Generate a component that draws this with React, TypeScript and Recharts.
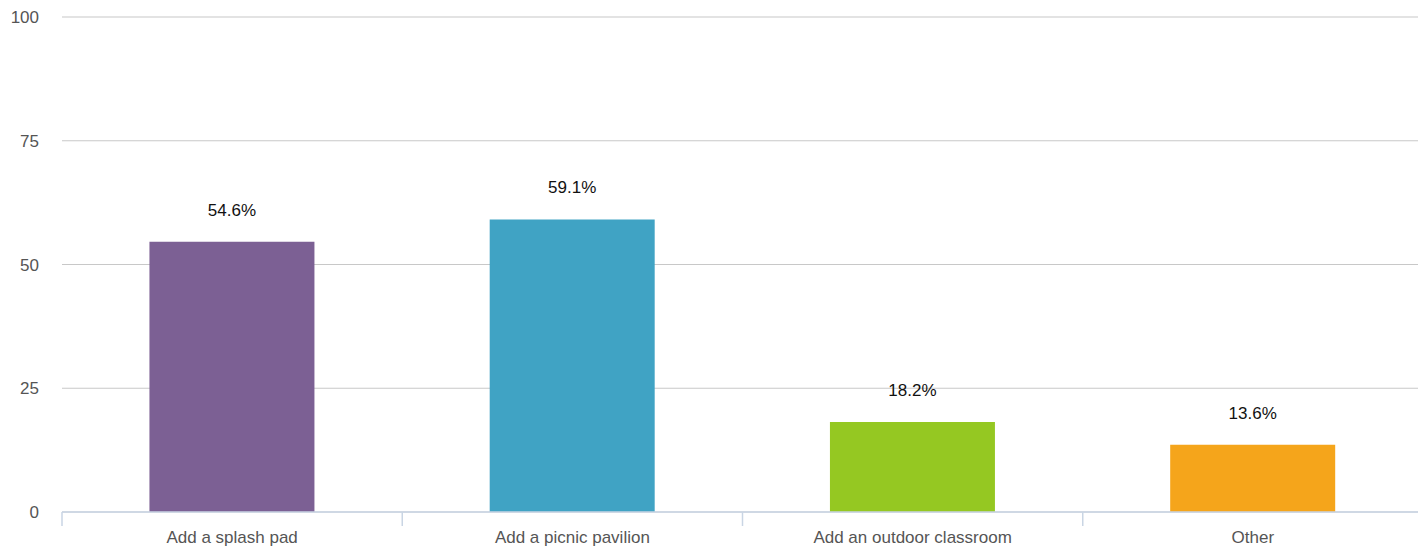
import React from 'react';
import { BarChart, Bar, XAxis, YAxis, CartesianGrid, Cell, LabelList } from 'recharts';

const categories = ['Add a splash pad', 'Add a picnic pavilion', 'Add an outdoor classroom', 'Other'];
const values = [54.6, 59.1, 18.2, 13.6];
const colors = ['#7c6094', '#40a3c4', '#95c822', '#f5a51b'];
const yTicks = [0, 25, 50, 75, 100];

const WIDTH = 1418;
const HEIGHT = 546;
const LEFT = 62;
const RIGHT_MARGIN = -5;
const PLOT_BOTTOM = 512;
const BAND = (WIDTH - LEFT - RIGHT_MARGIN) / categories.length;

const data = categories.map((name, i) => ({ name, value: values[i], color: colors[i] }));

// tick mark sits at the left edge of each category band, text at its centre
function CategoryTick(props: any) {
  const { x, payload } = props;
  const edge = x - BAND / 2;
  return (
    <g>
      <line x1={edge} x2={edge} y1={PLOT_BOTTOM} y2={PLOT_BOTTOM + 14} stroke="#c9d5e4" strokeWidth={1.5} />
      <text x={x} y={PLOT_BOTTOM + 31} textAnchor="middle" fill="#555" fontSize={17}>
        {payload.value}
      </text>
    </g>
  );
}

export default function App() {
  return (
    <div style={{ position: 'absolute', left: 0, top: 0, width: WIDTH, height: HEIGHT, background: '#fff', fontFamily: '"Liberation Sans", Arial, sans-serif' }}>
      <BarChart
        width={WIDTH}
        height={HEIGHT}
        data={data}
        margin={{ top: 17, right: RIGHT_MARGIN, left: 0, bottom: 4 }}
        barCategoryGap="25.7%"
      >
        <CartesianGrid vertical={false} stroke="#c8c8c8" strokeWidth={1.2} />
        <YAxis
          domain={[0, 100]}
          ticks={yTicks}
          width={LEFT}
          axisLine={false}
          tickLine={false}
          tick={{ fill: '#555', fontSize: 17 }}
          tickMargin={17}
        />
        <XAxis
          dataKey="name"
          height={30}
          axisLine={{ stroke: '#c9d5e4', strokeWidth: 1.5 }}
          tickLine={false}
          tick={<CategoryTick />}
          interval={0}
        />
        <Bar dataKey="value" isAnimationActive={false}>
          {data.map((d) => (
            <Cell key={d.name} fill={d.color} />
          ))}
          <LabelList
            dataKey="value"
            position="top"
            offset={26}
            formatter={(v: any) => `${v}%`}
            style={{ fill: '#111', fontSize: 17 }}
          />
        </Bar>
      </BarChart>
    </div>
  );
}
